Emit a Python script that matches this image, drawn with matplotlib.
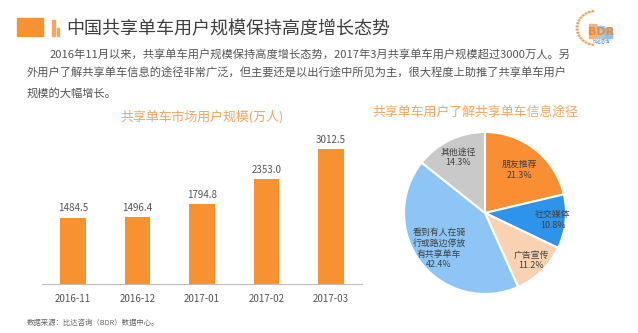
import matplotlib
matplotlib.use("Agg")
import matplotlib.pyplot as plt
from matplotlib.patches import Rectangle, Circle
import numpy as np

plt.rcParams['font.family'] = ['Noto Sans CJK SC', 'DejaVu Sans']

# ---------------- data ----------------
header_title = "中国共享单车用户规模保持高度增长态势"
paragraph_lines = [
    "2016年11月以来，共享单车用户规模保持高度增长态势，2017年3月共享单车用户规模超过3000万人。另",
    "外用户了解共享单车信息的途径非常广泛，但主要还是以出行途中所见为主，很大程度上助推了共享单车用户",
    "规模的大幅增长。",
]
bar_title = "共享单车市场用户规模(万人)"
months = ["2016-11", "2016-12", "2017-01", "2017-02", "2017-03"]
users = [1484.5, 1496.4, 1794.8, 2353.0, 3012.5]

pie_title = "共享单车用户了解共享单车信息途径"
channels = ["朋友推荐", "社交媒体", "广告宣传", "看到有人在骑\n行或路边停放\n有共享单车", "其他途径"]
shares = [21.3, 10.8, 11.2, 42.4, 14.3]
source_text = "数据来源：比达咨询（BDR）数据中心。"

# ---------------- styles ----------------
W, H = 638, 333
ORANGE = "#F7922F"
pie_colors = ["#F98E32", "#2E93EA", "#F9D3B1", "#8DC6F6", "#C9C9C9"]
label_dist = [0.68, 0.84, 0.82, 0.72, 0.76]

fig = plt.figure(figsize=(W / 100, H / 100), dpi=100)
fig.patch.set_facecolor("white")

def fx(px):
    return px / W

def fy(py):
    return 1 - py / H

# header decoration
fig.patches.append(Rectangle((fx(17), fy(36)), fx(26), 18 / H, transform=fig.transFigure,
                             color=ORANGE, zorder=1))
fig.patches.append(Rectangle((fx(52), fy(36)), fx(2.5), 16 / H, transform=fig.transFigure,
                             color="#F9A65A", zorder=1))
fig.patches.append(Rectangle((fx(57), fy(36)), fx(2.5), 8 / H, transform=fig.transFigure,
                             color="#F9A65A", zorder=1))
fig.text(fx(66), fy(29), header_title, fontsize=13, color="#3F3F3F", va="center", ha="left")

# paragraph
fig.text(fx(50), fy(54), paragraph_lines[0], fontsize=8.1, color="#555555", va="center", ha="left")
fig.text(fx(27), fy(73.5), paragraph_lines[1], fontsize=8.1, color="#555555", va="center", ha="left")
fig.text(fx(27), fy(93), paragraph_lines[2], fontsize=8.1, color="#555555", va="center", ha="left")

# logo
for i, (x0, h, c) in enumerate([(589, 14, "#F6B27A"), (597, 12, "#9FCBF0"), (605, 10, "#8EC0EC")]):
    fig.patches.append(Rectangle((fx(x0), fy(38)), fx(7), h / H, transform=fig.transFigure,
                                 color=c, zorder=1))
fig.text(fx(601), fy(32), "BDR", fontsize=8, color="#F08A2C", ha="center", va="center",
         fontweight="bold", family=["DejaVu Sans"])
fig.text(fx(601), fy(42), "比达咨询", fontsize=3.2, color="#4A90D9", ha="center", va="center")
for a in np.linspace(100, 260, 16):
    cx = 596 + 19 * np.cos(np.radians(a))
    cy = 28 - 17 * np.sin(np.radians(a))
    fig.patches.append(Circle((fx(cx), fy(cy)), 0.9 / W, transform=fig.transFigure,
                              color="#F3A35C", zorder=1))

# ---------------- bar chart ----------------
axb = fig.add_axes([fx(42), fy(284), 320 / W, 154 / H])
x = np.arange(len(months))
bars = axb.bar(x, users, width=0.40, color=ORANGE, zorder=2)
axb.set_xlim(-0.48, len(months) - 0.52)
axb.set_ylim(0, 3445)
for rect, v in zip(bars, users):
    axb.annotate(f"{v:.1f}", (rect.get_x() + rect.get_width() / 2, v),
                 xytext=(0, 3), textcoords="offset points", ha="center", va="bottom",
                 fontsize=7, color="#555555")
axb.set_xticks(x)
axb.set_xticklabels(months, fontsize=7, color="#555555")
axb.tick_params(axis="x", length=0, pad=7)
axb.set_yticks([])
for s in ["top", "right", "left"]:
    axb.spines[s].set_visible(False)
axb.spines["bottom"].set_color("#BFBFBF")
axb.spines["bottom"].set_linewidth(0.8)
axb.patch.set_alpha(0)
fig.text(fx(202), fy(117), bar_title, fontsize=9.3, color="#F5A461", ha="center", va="center")

# source
fig.text(fx(27), fy(323), source_text, fontsize=5.3, color="#666666", ha="left", va="center")

# ---------------- pie chart ----------------
r = 81
cxp, cyp = 485, 213
axp = fig.add_axes([fx(cxp - r), fy(cyp + r), 2 * r / W, 2 * r / H])
wedges, _ = axp.pie(shares, colors=pie_colors, startangle=90, counterclock=False,
                    wedgeprops=dict(edgecolor="white", linewidth=1.5))
axp.set_xlim(-1, 1)
axp.set_ylim(-1, 1)
axp.set_aspect("auto")
axp.axis("off")
for w, name, val, d in zip(wedges, channels, shares, label_dist):
    ang = np.radians((w.theta1 + w.theta2) / 2)
    axp.text(d * np.cos(ang), d * np.sin(ang), f"{name}\n{val:.1f}%", ha="center", va="center",
             fontsize=6.4, color="#404040", linespacing=1.25)
fig.text(fx(475), fy(112), pie_title, fontsize=9.3, color="#F5A461", ha="center", va="center")

fig.savefig("out.png", dpi=100)
